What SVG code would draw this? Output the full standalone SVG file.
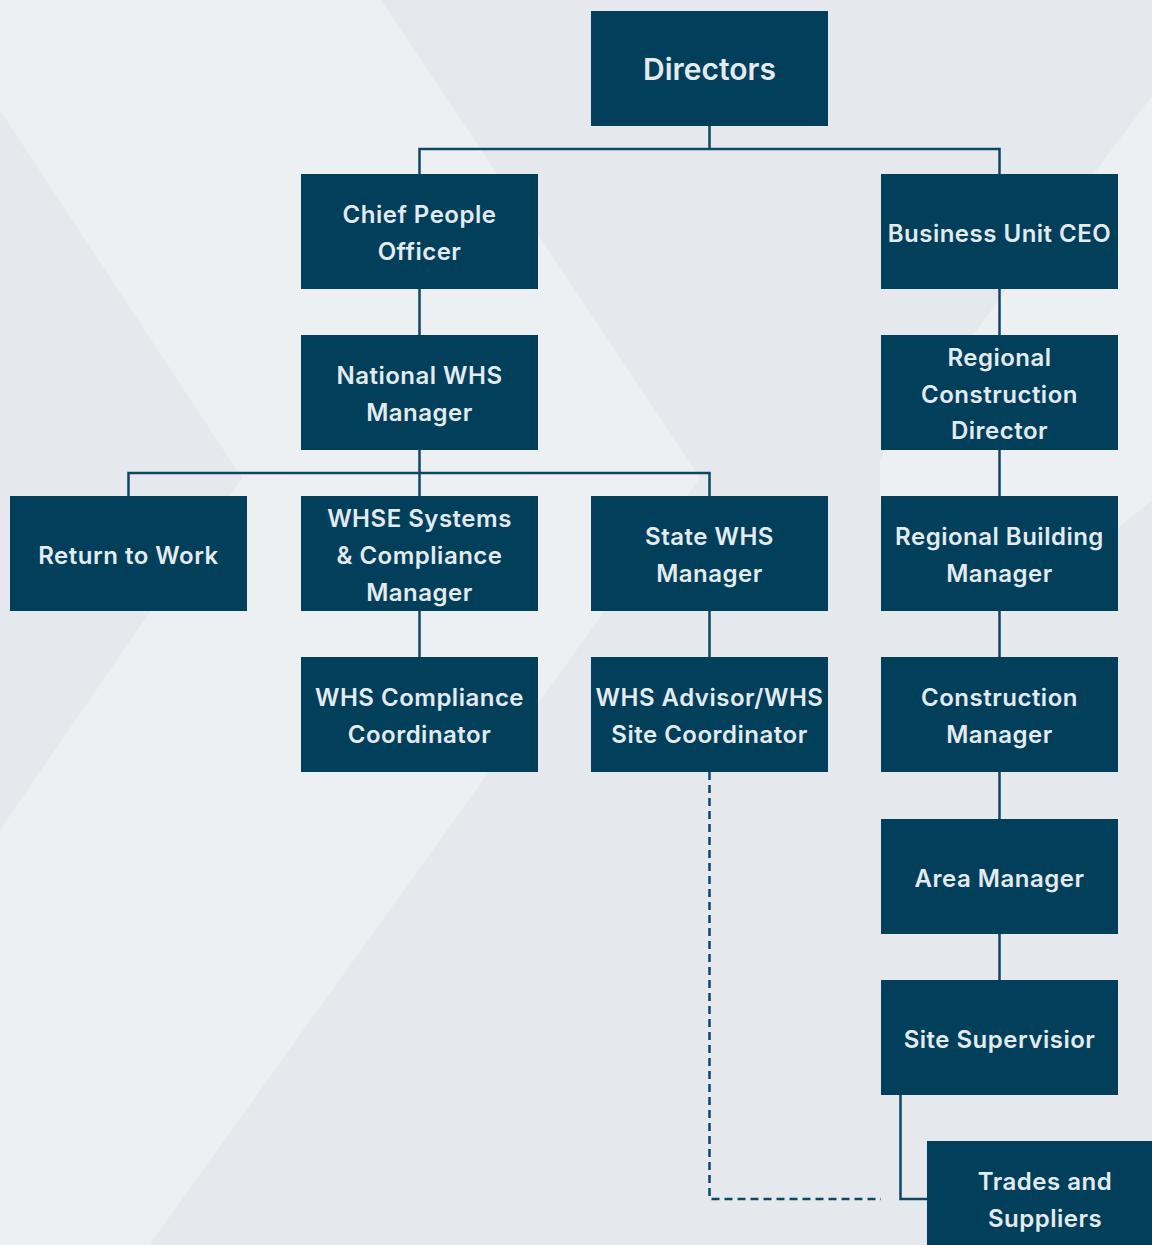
<svg xmlns="http://www.w3.org/2000/svg" width="1152" height="1245" viewBox="0 0 1152 1245">
<style>
.bg{fill:#E5E9EE}
.hl{fill:#ECF0F3}
.box{fill:#013F5A}
.t{font-family:Inter,"Noto Sans","Liberation Sans",sans-serif;font-size:24px;font-weight:600;fill:#E4EBF0;text-anchor:middle;letter-spacing:0.5px}
.t.big{font-size:30px;letter-spacing:0}
.ln{fill:none;stroke:#0E4761;stroke-width:2.5}
.dash{fill:none;stroke:#0E4761;stroke-width:2.5;stroke-dasharray:8 5}
</style>
<rect class="bg" x="0" y="0" width="1152" height="1245"/>
<polygon class="hl" points="0,0 381,0 700,478 149,1245 0,1245 0,830 242,478 0,110"/>
<polygon class="hl" points="1152,96 880,459 880,506 1118,528 1152,500"/>
<g id="connectors">
<path class="ln" d="M709.5,126 V149 M419.5,174 V149 H999.5 V174"/>
<path class="ln" d="M419.5,289 V335"/>
<path class="ln" d="M419.5,450 V496 M128.5,496 V473 H709.5 V496"/>
<path class="ln" d="M419.5,611 V657"/>
<path class="ln" d="M709.5,611 V657"/>
<path class="ln" d="M999.5,289 V335 M999.5,450 V496 M999.5,611 V657 M999.5,772 V819 M999.5,934 V980"/>
<path class="ln" d="M900.5,1095 V1199 H927"/>
<path class="dash" d="M709.5,772 V1199 H881"/>
</g>
<g id="directors"><rect class="box" x="591" y="11" width="237" height="115"/><text class="t big" x="709.5" y="80">Directors</text></g>
<g id="chief-people-officer"><rect class="box" x="301" y="174" width="237" height="115"/><text class="t" x="419.5" y="223">Chief People</text><text class="t" x="419.5" y="260">Officer</text></g>
<g id="business-unit-ceo"><rect class="box" x="881" y="174" width="237" height="115"/><text class="t" x="999.5" y="242">Business Unit CEO</text></g>
<g id="national-whs-manager"><rect class="box" x="301" y="335" width="237" height="115"/><text class="t" x="419.5" y="384">National WHS</text><text class="t" x="419.5" y="421">Manager</text></g>
<g id="regional-construction-director"><rect class="box" x="881" y="335" width="237" height="115"/><text class="t" x="999.5" y="366">Regional</text><text class="t" x="999.5" y="403">Construction</text><text class="t" x="999.5" y="439">Director</text></g>
<g id="return-to-work"><rect class="box" x="10" y="496" width="237" height="115"/><text class="t" x="128.5" y="564">Return to Work</text></g>
<g id="whse-systems-compliance-manager"><rect class="box" x="301" y="496" width="237" height="115"/><text class="t" x="419.5" y="527">WHSE Systems</text><text class="t" x="419.5" y="564">&amp; Compliance</text><text class="t" x="419.5" y="601">Manager</text></g>
<g id="state-whs-manager"><rect class="box" x="591" y="496" width="237" height="115"/><text class="t" x="709.5" y="545">State WHS</text><text class="t" x="709.5" y="582">Manager</text></g>
<g id="regional-building-manager"><rect class="box" x="881" y="496" width="237" height="115"/><text class="t" x="999.5" y="545">Regional Building</text><text class="t" x="999.5" y="582">Manager</text></g>
<g id="whs-compliance-coordinator"><rect class="box" x="301" y="657" width="237" height="115"/><text class="t" x="419.5" y="706">WHS Compliance</text><text class="t" x="419.5" y="743">Coordinator</text></g>
<g id="whs-advisor-site-coordinator"><rect class="box" x="591" y="657" width="237" height="115"/><text class="t" x="709.5" y="706">WHS Advisor/WHS</text><text class="t" x="709.5" y="743">Site Coordinator</text></g>
<g id="construction-manager"><rect class="box" x="881" y="657" width="237" height="115"/><text class="t" x="999.5" y="706">Construction</text><text class="t" x="999.5" y="743">Manager</text></g>
<g id="area-manager"><rect class="box" x="881" y="819" width="237" height="115"/><text class="t" x="999.5" y="887">Area Manager</text></g>
<g id="site-supervisior"><rect class="box" x="881" y="980" width="237" height="115"/><text class="t" x="999.5" y="1048">Site Supervisior</text></g>
<g id="trades-and-suppliers"><rect class="box" x="927" y="1141" width="237" height="115"/><text class="t" x="1045" y="1190">Trades and</text><text class="t" x="1045" y="1227">Suppliers</text></g>
</svg>
